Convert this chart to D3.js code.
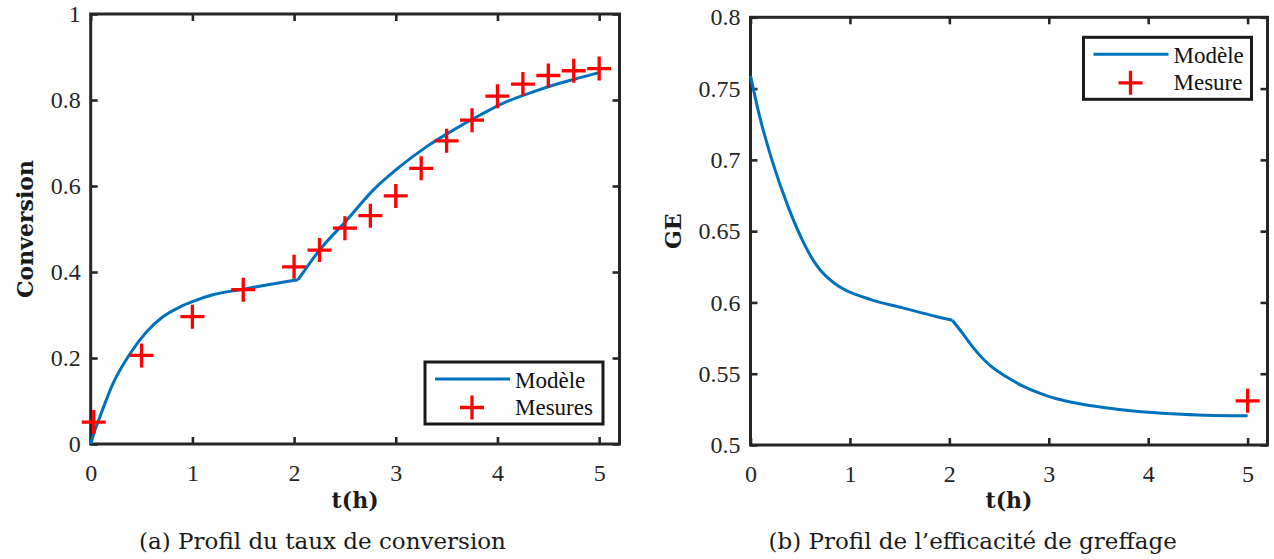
<!DOCTYPE html>
<html lang="fr">
<head>
<meta charset="utf-8">
<title>Profils conversion et GE</title>
<script src="https://cdn.jsdelivr.net/npm/d3@7"></script>
<style>
  body { margin: 0; background: #fff; }
  .lab { font-family: "DejaVu Serif", serif; font-weight: bold; font-size: 22px; fill: #1a1a1a; }
  .cap { font-family: "DejaVu Serif", serif; font-size: 23px; fill: #1a1a1a; }
  .leg { font-family: "Liberation Serif", "Times New Roman", serif; font-size: 23px; fill: #111; }
</style>
</head>
<body>
<script>
// ---- data ----
// (a) conversion, model in two phases (kink at t ~ 2h)
var tConv1 = [0, 0.03, 0.09, 0.22, 0.39, 0.55, 0.71, 0.88, 1.0, 1.2, 1.5, 1.73, 2.04];
var conv1  = [0, 0.024, 0.063, 0.141, 0.211, 0.261, 0.296, 0.319, 0.331, 0.347, 0.360, 0.370, 0.382];
var tConv2 = [2.04, 2.25, 2.52, 2.78, 3.04, 3.30, 3.565, 3.83, 4.09, 4.35, 4.61, 4.88, 5.0];
var conv2  = [0.382, 0.451, 0.521, 0.591, 0.645, 0.691, 0.730, 0.765, 0.796, 0.819, 0.839, 0.856, 0.864];
var tConvMes = [0.03, 0.5, 1, 1.5, 2, 2.25, 2.5, 2.75, 3, 3.25, 3.5, 3.75, 4, 4.25, 4.5, 4.75, 5];
var convMes  = [0.051, 0.206, 0.296, 0.359, 0.412, 0.451, 0.502, 0.531, 0.577, 0.641, 0.705, 0.753, 0.809, 0.837, 0.857, 0.868, 0.873];

// (b) grafting efficiency GE
var tGE1 = [0, 0.083, 0.215, 0.381, 0.55, 0.63, 0.71, 0.79, 0.88, 0.96, 1.05, 1.21, 1.54, 1.875, 2.03];
var ge1  = [0.759, 0.733, 0.700, 0.6667, 0.6397, 0.6297, 0.6221, 0.6165, 0.6117, 0.6085, 0.6058, 0.602, 0.596, 0.590, 0.5875];
var tGE2 = [2.03, 2.13, 2.23, 2.40, 2.565, 2.73, 2.90, 3.07, 3.23, 3.57, 3.90, 4.24, 4.575, 5.0];
var ge2  = [0.5875, 0.5786, 0.5692, 0.5564, 0.5482, 0.5417, 0.5366, 0.5326, 0.5300, 0.5261, 0.5235, 0.5219, 0.5209, 0.5205];
var tGEMes = [5];
var geMes  = [0.531];

// ticks
var tTicks = [0, 1, 2, 3, 4, 5];
var convTicks = [0, 0.2, 0.4, 0.6, 0.8, 1];
var convTickLabels = ["0", "0.2", "0.4", "0.6", "0.8", "1"];
var geTicks = [0.5, 0.55, 0.6, 0.65, 0.7, 0.75, 0.8];
var geTickLabels = ["0.5", "0.55", "0.6", "0.65", "0.7", "0.75", "0.8"];

var blue = "#0072bd";
var red = "#ff0000";
var dark = "#262626";

var svg = d3.select("body").append("svg")
    .attr("width", 1274)
    .attr("height", 559);

function zip(xs, ys) {
  return xs.map(function(x, i) { return [x, ys[i]]; });
}

function crossAt(g, x, y) {
  g.append("path")
    .attr("d", "M" + (x - 12) + "," + y + "H" + (x + 12) + "M" + x + "," + (y - 12) + "V" + (y + 12))
    .attr("stroke", red)
    .attr("stroke-width", 3.3)
    .attr("fill", "none");
}

// tick look shared by the four axes
function styleAxis(a) {
  a.selectAll(".domain").remove();
  a.selectAll(".tick line").attr("stroke", dark).attr("stroke-width", 2.6);
  a.selectAll(".tick text")
    .attr("fill", dark)
    .style("font-family", "'Liberation Serif', 'Times New Roman', serif")
    .style("font-size", "24px");
}

// draws one panel
function panel(p) {
  var x = d3.scaleLinear().domain([0, 5.2]).range([p.left, p.right]);
  var y = d3.scaleLinear().domain(p.ydom).range([p.bottom, p.top]);
  var g = svg.append("g");

  // axes, ticks pointing inward on all four sides
  var labelsY = {};
  p.yTicks.forEach(function(d, i) { labelsY[d] = p.yLabels[i]; });

  g.append("g")
    .attr("transform", "translate(0," + p.bottom + ")")
    .call(d3.axisBottom(x).tickValues(tTicks).tickFormat(d3.format("d"))
      .tickSizeInner(-7).tickSizeOuter(0).tickPadding(20))
    .call(styleAxis);
  g.append("g")
    .attr("transform", "translate(0," + p.top + ")")
    .call(d3.axisTop(x).tickValues(tTicks).tickFormat("")
      .tickSizeInner(-7).tickSizeOuter(0))
    .call(styleAxis);
  g.append("g")
    .attr("transform", "translate(" + p.left + ",0)")
    .call(d3.axisLeft(y).tickValues(p.yTicks).tickFormat(function(d) { return labelsY[d]; })
      .tickSizeInner(-7).tickSizeOuter(0).tickPadding(10))
    .call(styleAxis);
  g.append("g")
    .attr("transform", "translate(" + p.right + ",0)")
    .call(d3.axisRight(y).tickValues(p.yTicks).tickFormat("")
      .tickSizeInner(-7).tickSizeOuter(0))
    .call(styleAxis);

  // box
  g.append("rect")
    .attr("x", p.left).attr("y", p.top)
    .attr("width", p.right - p.left).attr("height", p.bottom - p.top)
    .attr("fill", "none").attr("stroke", dark).attr("stroke-width", 3);

  // model curve (two phases)
  var line = d3.line()
    .x(function(d) { return x(d[0]); })
    .y(function(d) { return y(d[1]); })
    .curve(d3.curveMonotoneX);
  p.model.forEach(function(seg) {
    g.append("path")
      .attr("d", line(seg))
      .attr("fill", "none")
      .attr("stroke", blue)
      .attr("stroke-width", 3)
      .attr("stroke-linejoin", "round");
  });

  // measurements
  p.mes.forEach(function(d) { crossAt(g, x(d[0]), y(d[1])); });

  // axis titles
  g.append("text").attr("class", "lab")
    .attr("x", (p.left + p.right) / 2).attr("y", 508)
    .attr("text-anchor", "middle").text("t(h)");
  g.append("text").attr("class", "lab")
    .attr("transform", "translate(" + p.ylabX + "," + ((p.top + p.bottom) / 2) + ") rotate(-90)")
    .attr("text-anchor", "middle").text(p.ylab);

  // caption
  g.append("text").attr("class", "cap")
    .attr("x", p.capX).attr("y", 549)
    .attr("text-anchor", "middle").text(p.caption);

  // legend
  var lg = g.append("g").attr("transform", "translate(" + p.leg[0] + "," + p.leg[1] + ")");
  lg.append("rect")
    .attr("width", p.leg[2]).attr("height", 62)
    .attr("fill", "#fff").attr("stroke", "#1a1a1a").attr("stroke-width", 3);
  lg.append("line")
    .attr("x1", 10).attr("x2", 85).attr("y1", 17).attr("y2", 17)
    .attr("stroke", blue).attr("stroke-width", 3);
  lg.append("text").attr("class", "leg").attr("x", 90).attr("y", 26).text("Modèle");
  crossAt(lg, 47, 45.5);
  lg.append("text").attr("class", "leg").attr("x", 90).attr("y", 53).text(p.mesName);
}

panel({
  left: 90.7, right: 619.5, top: 14, bottom: 444,
  ydom: [0, 1], yTicks: convTicks, yLabels: convTickLabels,
  model: [zip(tConv1, conv1), zip(tConv2, conv2)],
  mes: zip(tConvMes, convMes),
  ylab: "Conversion", ylabX: 33,
  caption: "(a) Profil du taux de conversion", capX: 322.5,
  leg: [425, 362, 178], mesName: "Mesures"
});

panel({
  left: 750.5, right: 1267.5, top: 17.3, bottom: 445,
  ydom: [0.5, 0.8], yTicks: geTicks, yLabels: geTickLabels,
  model: [zip(tGE1, ge1), zip(tGE2, ge2)],
  mes: zip(tGEMes, geMes),
  ylab: "GE", ylabX: 681,
  caption: "(b) Profil de l\u2019efficacité de greffage", capX: 972.7,
  leg: [1083.5, 37.3, 168], mesName: "Mesure"
});
</script>
</body>
</html>
